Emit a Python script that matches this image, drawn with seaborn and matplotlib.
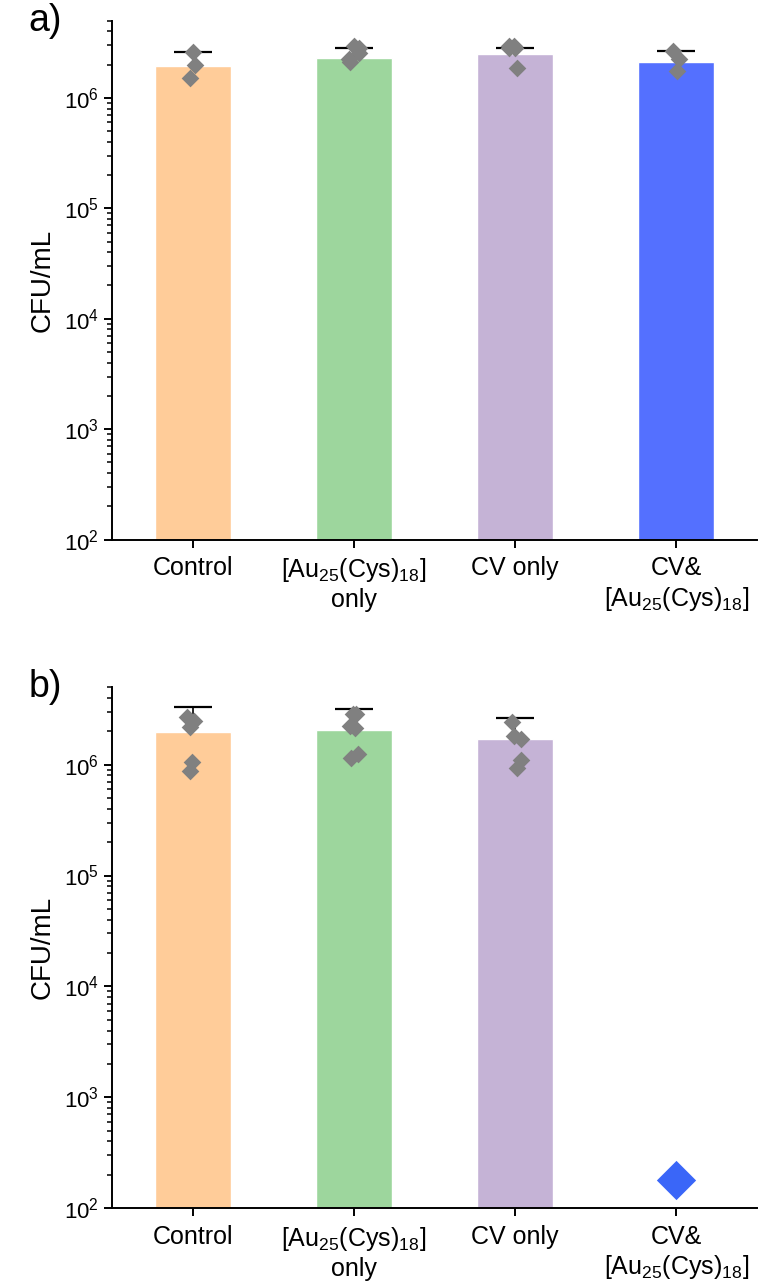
import numpy as np
import pandas as pd
import seaborn as sns
import matplotlib.pyplot as plt

## data
groups = ["Control", "[Au$_{25}$(Cys)$_{18}$]\nonly", "CV only", "CV&\n[Au$_{25}$(Cys)$_{18}$]"]
colors = ["#FFCC99", "#9DD69D", "#C5B3D6", "#5470FF"]

# panel a
mean_a = [1.95e6, 2.31e6, 2.49e6, 2.12e6]
top_a = [2.61e6, 2.82e6, 2.85e6, 2.65e6]
pts_a_ctrl = [2.6e6, 2.0e6, 1.5e6]
pts_a_au = [2.95e6, 2.85e6, 2.55e6, 2.25e6, 2.1e6]
pts_a_cv = [2.8e6, 2.95e6, 2.95e6, 2.85e6, 1.85e6]
pts_a_cvau = [2.65e6, 2.25e6, 1.75e6]

# panel b
mean_b = [1.98e6, 2.07e6, 1.71e6, np.nan]
top_b = [3.31e6, 3.15e6, 2.61e6, np.nan]
pts_b_ctrl = [2.7e6, 2.5e6, 2.2e6, 1.05e6, 0.87e6]
pts_b_au = [2.85e6, 2.85e6, 2.25e6, 2.15e6, 1.25e6, 1.15e6]
pts_b_cv = [2.4e6, 1.8e6, 1.7e6, 1.1e6, 0.93e6]
pts_b_cvau = [180]

sns.set_style("ticks", {"text.color": "black", "axes.labelcolor": "black",
                        "xtick.color": "black", "ytick.color": "black",
                        "axes.edgecolor": "black"})
plt.rcParams['font.family'] = ['Liberation Sans', 'DejaVu Sans']
plt.rcParams['mathtext.fontset'] = 'custom'
plt.rcParams['mathtext.rm'] = 'Liberation Sans'
plt.rcParams['mathtext.it'] = 'Liberation Sans:italic'
plt.rcParams['mathtext.default'] = 'regular'
np.random.seed(3)

fig = plt.figure(figsize=(7.63, 12.88), dpi=100)
ax_a = fig.add_axes([0.147, 0.581, 0.845, 0.403])
ax_b = fig.add_axes([0.147, 0.062, 0.845, 0.4045])


def draw_panel(ax, means, tops, pts, label, big_last=False):
    bars = pd.DataFrame({"group": groups, "cfu": means})
    sns.barplot(data=bars, x="group", y="cfu", hue="group", palette=colors,
                order=groups, width=0.47, errorbar=None, legend=False, ax=ax,
                saturation=1, zorder=1)
    ax.set_yscale("log")

    # one-sided (upper) error bars, lower cap hidden
    xs = np.arange(len(groups))
    m = np.array(means)
    up = np.array(tops) - m
    eb = ax.errorbar(xs, m, yerr=[np.zeros_like(m), up], fmt="none", ecolor="black",
                     elinewidth=1.2, capsize=14, capthick=1.6, zorder=2)
    eb[1][0].set_visible(False)

    rows = []
    for g, vals in zip(groups, pts):
        for v in vals:
            rows.append({"group": g, "cfu": v})
    dots = pd.DataFrame(rows)
    if big_last:
        small = dots[dots.group != groups[-1]]
        big = dots[dots.group == groups[-1]]
        sns.stripplot(data=small, x="group", y="cfu", order=groups, marker="D",
                      size=9, color="#808080", jitter=0.04, linewidth=0, ax=ax, zorder=3)
        sns.stripplot(data=big, x="group", y="cfu", order=groups, marker="D",
                      size=20, color="#3A66F8", jitter=0, linewidth=0, ax=ax, zorder=3)
    else:
        sns.stripplot(data=dots, x="group", y="cfu", order=groups, marker="D",
                      size=9, color="#808080", jitter=0.04, linewidth=0, ax=ax, zorder=3)

    ax.set_ylim(1e2, 5e6)
    ax.set_xlim(-0.5, 3.5)
    ax.set_xlabel("")
    ax.set_ylabel("CFU/mL", fontsize=20, labelpad=6)
    sns.despine(ax=ax)
    for s in ["left", "bottom"]:
        ax.spines[s].set_linewidth(1.4)
    ax.tick_params(axis="x", labelsize=18, length=6, width=1.4, pad=6)
    ax.tick_params(axis="y", which="major", labelsize=16, length=6, width=1.4)
    ax.tick_params(axis="y", which="minor", length=3.5, width=1.1)
    ax.text(-0.13, 1.0, label, transform=ax.transAxes, fontsize=27,
            ha="left", va="center")


draw_panel(ax_a, mean_a, top_a, [pts_a_ctrl, pts_a_au, pts_a_cv, pts_a_cvau], "a)")
draw_panel(ax_b, mean_b, top_b, [pts_b_ctrl, pts_b_au, pts_b_cv, pts_b_cvau], "b)",
           big_last=True)

fig.savefig("out.png", dpi=100)
